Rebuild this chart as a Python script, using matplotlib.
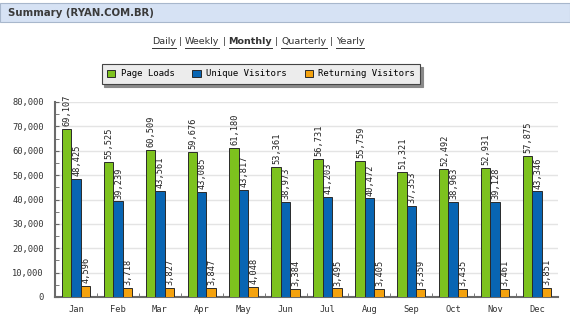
import matplotlib
matplotlib.use("Agg")
import matplotlib.pyplot as plt
import numpy as np
from matplotlib.patches import Rectangle

# chart data
months = ["Jan", "Feb", "Mar", "Apr", "May", "Jun",
          "Jul", "Aug", "Sep", "Oct", "Nov", "Dec"]
page_loads = [69107, 55525, 60509, 59676, 61180, 53361,
              56731, 55759, 51321, 52492, 52931, 57875]
unique_visitors = [48425, 39239, 43561, 43085, 43817, 38973,
                   41203, 40472, 37353, 38963, 39128, 43346]
returning_visitors = [4596, 3718, 3827, 3847, 4048, 3384,
                      3495, 3405, 3359, 3435, 3461, 3851]
series_names = ["Page Loads", "Unique Visitors", "Returning Visitors"]
period_links = ["Daily", "Weekly", "Monthly", "Quarterly", "Yearly"]
title = "Summary (RYAN.COM.BR)"

colors = ["#7dc21e", "#0865b3", "#f4a20e"]
mono = "DejaVu Sans Mono"

W, H = 570, 321
fig = plt.figure(figsize=(W / 100, H / 100), dpi=100)
fig.patch.set_facecolor("white")

# header band
fig.patches.append(Rectangle((0, 1 - 22 / H), 1, 19 / H, transform=fig.transFigure,
                             facecolor="#d6e2f4", edgecolor="#a8b7cc", lw=0.8))
fig.text(8 / W, 1 - 13 / H, title, fontsize=7.3, fontweight="bold",
         color="#3a3a3a", va="center", ha="left", family="DejaVu Sans")

ax = fig.add_axes([55 / W, 1 - 297 / H, 503 / W, 195 / H])
x = np.arange(len(months))
bw = 0.225
for i, (vals, name) in enumerate(zip([page_loads, unique_visitors, returning_visitors], series_names)):
    pos = x + (i - 1) * bw
    ax.bar(pos, vals, bw, color=colors[i], edgecolor="#2a2a2a", lw=0.7,
           label=name, zorder=3)
    for xp, v in zip(pos, vals):
        ax.annotate(f"{v:,}", (xp, v), xytext=(0.5, 2), textcoords="offset points",
                    rotation=90, ha="center", va="bottom", fontsize=6.2,
                    family=mono, color="#222222", annotation_clip=False, zorder=4)

ax.set_xlim(-0.5, len(months) - 0.5)
ax.set_ylim(0, 80000)
ax.set_yticks(np.arange(0, 80001, 10000))
ax.set_yticks(np.arange(5000, 80000, 10000), minor=True)
ax.set_yticklabels([f"{int(t):,}" for t in np.arange(0, 80001, 10000)],
                   family=mono, fontsize=6.3, color="#333333")
ax.set_xticks(x)
ax.set_xticklabels(months, family=mono, fontsize=6.3, color="#333333")
ax.set_xticks(x[:-1] + 0.5, minor=True)
ax.tick_params(axis="x", which="major", length=0, pad=6)
ax.tick_params(axis="x", which="minor", direction="in", length=3, color="#666666")
ax.tick_params(axis="y", which="both", direction="in", length=3, color="#666666", pad=8)
ax.grid(axis="y", color="#e4e4e4", lw=1, zorder=0)
for s in ["top", "right"]:
    ax.spines[s].set_visible(False)
for s in ["left", "bottom"]:
    ax.spines[s].set_color("#6a6a6a")
    ax.spines[s].set_linewidth(1.5)

leg = fig.legend(loc="center", bbox_to_anchor=(261 / W, 1 - 74 / H), ncol=3,
                 prop={"family": mono, "size": 6.5}, frameon=True, fancybox=False,
                 shadow={"color": "#8a8a8a", "alpha": 1}, edgecolor="#444444",
                 facecolor="#ececec", handlelength=0.9, handleheight=0.9,
                 columnspacing=2.0, handletextpad=0.6, borderpad=0.6,
                 borderaxespad=0)
leg.get_frame().set_linewidth(0.8)
leg.get_frame().set_alpha(1)

# period links line, words placed one after another and underlined
fig.canvas.draw()
renderer = fig.canvas.get_renderer()
pieces = []
for i, word in enumerate(period_links):
    pieces.append((word, True))
    if i < len(period_links) - 1:
        pieces.append(("|", False))
y_link = 1 - 42 / H
texts = []
for word, link in pieces:
    t = fig.text(0, y_link, word, fontsize=6.8, family="DejaVu Sans", color="#333333",
                 fontweight="bold" if word == "Monthly" else "normal", va="center", ha="left")
    texts.append((t, link))
gap = 3
widths = [t.get_window_extent(renderer).width for t, _ in texts]
total = sum(widths) + gap * (len(texts) - 1)
cur = 258 - total / 2
for (t, link), w in zip(texts, widths):
    t.set_x(cur / W)
    if link:
        fig.lines.append(plt.Line2D([cur / W, (cur + w) / W], [1 - 48 / H, 1 - 48 / H],
                                    transform=fig.transFigure, color="#333333", lw=0.7))
    cur += w + gap

fig.savefig("out.png", dpi=100)
